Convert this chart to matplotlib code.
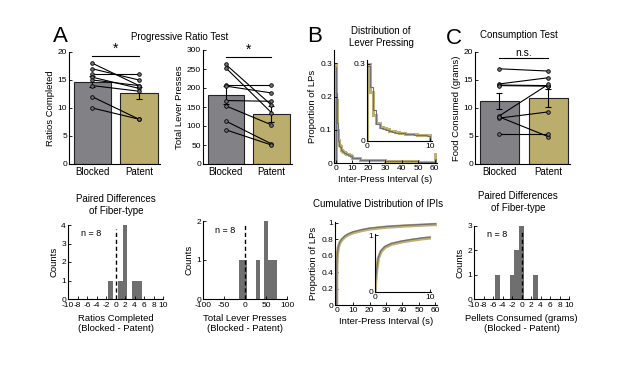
import numpy as np
import matplotlib
matplotlib.use('Agg')
from matplotlib import pyplot as plt

plt.rcParams['font.family'] = ['Liberation Sans', 'DejaVu Sans']
plt.rcParams['font.size'] = 6
plt.rcParams['axes.unicode_minus'] = False
plt.rcParams['axes.linewidth'] = 0.8
plt.rcParams['xtick.direction'] = 'in'
plt.rcParams['ytick.direction'] = 'in'
plt.rcParams['xtick.major.size'] = 2
plt.rcParams['ytick.major.size'] = 2
plt.rcParams['xtick.major.width'] = 0.6
plt.rcParams['ytick.major.width'] = 0.6
plt.rcParams['xtick.major.pad'] = 1.5
plt.rcParams['ytick.major.pad'] = 1.5
plt.rcParams['axes.labelsize'] = 6.8
plt.rcParams['axes.labelpad'] = 2

GRAY = '#828286'
GOLD = '#BBAD6C'
HIST = '#6F6F6F'
LINE_GRAY = '#707078'
LINE_GOLD = '#BDB070'

groups = ['Blocked', 'Patent']

# progressive ratio test
ratio_blocked = [18, 17, 16, 15.5, 15, 14, 12, 10]
ratio_patent = [14, 15, 16, 13.5, 14, 13, 8, 8]
ratio_sem = [1.0, 1.0]

presses_blocked = [262, 253, 208, 205, 167, 153, 113, 90]
presses_patent = [155, 135, 208, 187, 165, 103, 53, 50]
presses_sem = [24, 21]

# consumption test
food_blocked = [17.0, 14.3, 14.1, 14.0, 8.6, 8.2, 8.4, 5.4]
food_patent = [16.6, 15.4, 14.0, 13.9, 14.2, 9.3, 4.9, 5.4]
food_sem = [1.4, 1.6]

# paired differences (bin centre, count)
ratio_diff_bins = [-1, 1, 2, 4, 5]
ratio_diff_counts = [1, 1, 4, 1, 1]
press_diff_bins = [-10, 0, 30, 50, 60, 70]
press_diff_counts = [1, 1, 1, 2, 1, 1]
food_diff_bins = [-5, -2, -1, 0, 3]
food_diff_counts = [1, 1, 2, 3, 1]

# distribution of inter-press intervals, 0.5 s bins up to 10 s
ipi_fine_edges = np.arange(0, 10.5, 0.5)
ipi_gold_fine = [0.30, 0.19, 0.10, 0.07, 0.055, 0.05, 0.045, 0.04, 0.037, 0.034,
                 0.032, 0.03, 0.029, 0.028, 0.027, 0.026, 0.025, 0.024, 0.023, 0.022]
ipi_gray_fine = [0.29, 0.21, 0.12, 0.065, 0.05, 0.047, 0.042, 0.038, 0.035, 0.033,
                 0.031, 0.03, 0.028, 0.027, 0.026, 0.025, 0.025, 0.024, 0.022, 0.021]
ipi_tail_edges = [15, 20, 30, 40, 50, 60, 61]
ipi_gold_tail = [0.015, 0.01, 0.008, 0.006, 0.005, 0.004, 0.027]
ipi_gray_tail = [0.014, 0.01, 0.008, 0.006, 0.005, 0.004, 0.012]

# cumulative distribution of IPIs
cdf_t = [0, 0.02, 0.1, 0.3, 0.5, 1, 2, 3, 5, 7, 10, 15, 20, 30, 40, 50, 60]
cdf_gray = [0, 0.3, 0.5, 0.6, 0.64, 0.71, 0.77, 0.8, 0.84, 0.865, 0.89, 0.915, 0.935, 0.955, 0.968, 0.978, 0.988]
cdf_gold = [0, 0.28, 0.48, 0.58, 0.63, 0.70, 0.76, 0.79, 0.83, 0.855, 0.88, 0.905, 0.925, 0.947, 0.96, 0.97, 0.98]
cdf_in_t = [0, 0.05, 0.1, 0.3, 0.6, 1.1, 1.8, 3, 4.8, 6.7, 8.5, 10]
cdf_in_gray = [0, 0.05, 0.19, 0.40, 0.61, 0.73, 0.80, 0.855, 0.895, 0.925, 0.95, 0.965]
cdf_in_gold = [0, 0.04, 0.17, 0.38, 0.59, 0.71, 0.785, 0.84, 0.88, 0.91, 0.935, 0.95]

W, H = 617, 374
fig = plt.figure(figsize=(W / 100, H / 100), dpi=100)


def px_axes(x0, x1, y0, y1):
    ax = fig.add_axes([x0 / W, 1 - y1 / H, (x1 - x0) / W, (y1 - y0) / H])
    ax.spines['top'].set_visible(False)
    ax.spines['right'].set_visible(False)
    return ax


def bar_panel(ax, blocked, patent, sem, ylim, yticks, ylabel):
    x = [1, 2]
    means = [np.mean(blocked), np.mean(patent)]
    ax.bar(x, means, width=0.8, color=[GRAY, GOLD], edgecolor='#222222', linewidth=0.8, zorder=1)
    ax.errorbar(x, means, yerr=sem, fmt='none', ecolor='k', elinewidth=0.8, capsize=2.5,
                capthick=0.8, zorder=2)
    for b, p in zip(blocked, patent):
        ax.plot(x, [b, p], color='k', lw=0.8, marker='o', ms=2.6, mfc='0.45', mec='k', mew=0.6, zorder=3)
    ax.set_xlim(0.5, 2.45)
    ax.set_ylim(*ylim)
    ax.set_yticks(yticks)
    ax.set_xticks(x)
    ax.set_xticklabels(groups, fontsize=7)
    ax.tick_params(axis='x', length=0, pad=2)
    ax.set_ylabel(ylabel)


def sig(ax, y, text, dy, size):
    ax.plot([1, 2], [y, y], color='k', lw=0.8, clip_on=False)
    ax.text(1.5, y + dy, text, ha='center', va='bottom', fontsize=size, clip_on=False)


def diff_panel(ax, bins, counts, width, xlim, xticks, ylim, xlabel):
    ax.bar(bins, counts, width=width, color=HIST, edgecolor='none')
    ax.axvline(0, ymin=0, ymax=0.95, color='k', lw=1.0, ls=(0, (3, 2)))
    ax.set_xlim(*xlim)
    ax.set_xticks(xticks)
    ax.set_ylim(*ylim)
    ax.set_yticks(range(ylim[0], ylim[1] + 1))
    ax.tick_params(axis='x', pad=2.5)
    ax.set_ylabel('Counts')
    ax.set_xlabel(xlabel, linespacing=1.2, labelpad=3)
    ax.text(0.14, 0.88, 'n = 8', transform=ax.transAxes, fontsize=6.5, va='center')


# ---- top row ----
ax = px_axes(69, 160, 52, 164)
bar_panel(ax, ratio_blocked, ratio_patent, ratio_sem, (0, 20), range(0, 21, 5), 'Ratios Completed')
sig(ax, 19.3, '*', 0.0, 10)

ax = px_axes(203, 292, 50, 164)
bar_panel(ax, presses_blocked, presses_patent, presses_sem, (0, 300), range(0, 301, 50), 'Total Lever Presses')
sig(ax, 282, '*', 0.0, 10)

ax = px_axes(475, 570, 52, 164)
bar_panel(ax, food_blocked, food_patent, food_sem, (0, 20), range(0, 21, 5), 'Food Consumed (grams)')
sig(ax, 18.9, 'n.s.', 0.1, 7.5)

# distribution of lever pressing
edges_all = np.concatenate([ipi_fine_edges, ipi_tail_edges])
ax = px_axes(334, 437, 50, 163)
ax.stairs(ipi_gold_fine + ipi_gold_tail, edges_all, color=LINE_GOLD, lw=2.2)
ax.stairs(ipi_gray_fine + ipi_gray_tail, edges_all, color=LINE_GRAY, lw=0.8)
ax.set_xlim(-1, 61.5)
ax.set_ylim(0, 0.34)
ax.set_xticks(range(0, 61, 10))
ax.set_yticks([0, 0.1, 0.2, 0.3])
ax.set_yticklabels(['0', '0.1', '0.2', '0.3'])
ax.set_ylabel('Proportion of LPs')
ax.set_xlabel('Inter-Press Interval (s)')

ax = px_axes(367, 432, 60, 141)
ax.stairs(ipi_gold_fine, ipi_fine_edges, color=LINE_GOLD, lw=2.2)
ax.stairs(ipi_gray_fine, ipi_fine_edges, color=LINE_GRAY, lw=0.8)
ax.set_xlim(0, 10.3)
ax.set_ylim(0, 0.315)
ax.set_xticks([0, 10])
ax.set_yticks([0, 0.3])
ax.set_yticklabels(['0', '0.3'])
ax.patch.set_alpha(0)

# ---- bottom row ----
ax = px_axes(68, 163, 225, 299)
diff_panel(ax, ratio_diff_bins, ratio_diff_counts, 1, (-10, 10), range(-10, 11, 2), (0, 4),
           'Ratios Completed\n(Blocked - Patent)')

ax = px_axes(203, 287, 221, 299)
diff_panel(ax, press_diff_bins, press_diff_counts, 10, (-100, 100), range(-100, 101, 50), (0, 2),
           'Total Lever Presses\n(Blocked - Patent)')

ax = px_axes(474, 569, 226, 299)
diff_panel(ax, food_diff_bins, food_diff_counts, 1, (-10, 10), range(-10, 11, 2), (0, 3),
           'Pellets Consumed (grams)\n(Blocked - Patent)')

# cumulative distribution
ax = px_axes(335, 437, 222, 305)
ax.plot(cdf_t, cdf_gold, color=LINE_GOLD, lw=2.4)
ax.plot(cdf_t, cdf_gray, color=LINE_GRAY, lw=0.9)
ax.set_xlim(-1, 61)
ax.set_ylim(0, 1.01)
ax.set_xticks(range(0, 61, 10))
ax.set_yticks([0, 0.2, 0.4, 0.6, 0.8, 1])
ax.set_yticklabels(['0', '0.2', '0.4', '0.6', '0.8', '1'])
ax.set_ylabel('Proportion of LPs')
ax.set_xlabel('Inter-Press Interval (s)')

ax = px_axes(375, 431, 234, 292)
ax.plot(cdf_in_t, cdf_in_gold, color=LINE_GOLD, lw=2.4)
ax.plot(cdf_in_t, cdf_in_gray, color=LINE_GRAY, lw=0.9)
ax.set_xlim(0, 10.2)
ax.set_ylim(0, 1.02)
ax.set_xticks([0, 10])
ax.set_yticks([0, 1])
ax.patch.set_alpha(0)

# titles and panel letters
fig.text(180 / W, 1 - 37 / H, 'Progressive Ratio Test', ha='center', va='center', fontsize=7)
fig.text(381 / W, 1 - 37 / H, 'Distribution of\nLever Pressing', ha='center', va='center', fontsize=7,
         linespacing=1.15)
fig.text(519 / W, 1 - 35 / H, 'Consumption Test', ha='center', va='center', fontsize=7)
fig.text(116 / W, 1 - 205 / H, 'Paired Differences\nof Fiber-type', ha='center', va='center', fontsize=7,
         linespacing=1.15)
fig.text(518 / W, 1 - 202 / H, 'Paired Differences\nof Fiber-type', ha='center', va='center', fontsize=7,
         linespacing=1.15)
fig.text(378 / W, 1 - 204 / H, 'Cumulative Distribution of IPIs', ha='center', va='center', fontsize=7)

fig.text(60 / W, 1 - 36 / H, 'A', ha='center', va='center', fontsize=16)
fig.text(315 / W, 1 - 36 / H, 'B', ha='center', va='center', fontsize=16)
fig.text(454 / W, 1 - 38 / H, 'C', ha='center', va='center', fontsize=16)

fig.savefig('out.png', dpi=100)
